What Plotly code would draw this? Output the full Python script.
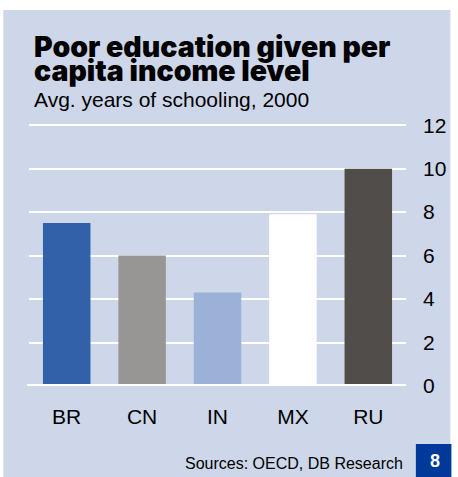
import plotly.graph_objects as go

categories = ["BR", "CN", "IN", "MX", "RU"]
values = [7.5, 6.0, 4.3, 7.9, 10.0]
bar_colors = ["#3261A9", "#989694", "#9BB1D7", "#FFFFFF", "#514D4B"]
y_ticks = [0, 2, 4, 6, 8, 10, 12]

title_line1 = "Poor education given per"
title_line2 = "capita income level"
subtitle = "Avg. years of schooling, 2000"
source = "Sources: OECD, DB Research"
chart_no = "8"

W, H = 458, 477
ML, MR, MT, MB = 29, 47, 123, 91
PW, PH = W - ML - MR, H - MT - MB
BG = "#CDD7E9"
FONT = "Liberation Sans, Arial, sans-serif"
TITLE_FONT = "Inter, Roboto, sans-serif"

fig = go.Figure()
fig.add_trace(go.Bar(
    x=categories, y=values, marker=dict(color=bar_colors, line=dict(width=0)),
    width=0.63, hoverinfo="skip",
))

def px_x(p):
    return (p - ML) / PW

def px_y(p):
    return (H - MB - p) / PH

shapes = [
    dict(type="rect", xref="paper", yref="paper", x0=px_x(3), x1=px_x(456),
         y0=px_y(477), y1=px_y(10), fillcolor=BG, line=dict(width=0), layer="below"),
    dict(type="rect", xref="paper", yref="paper", x0=px_x(421), x1=px_x(457),
         y0=px_y(477), y1=px_y(444), fillcolor="#00399A", line=dict(width=0), layer="above"),
    dict(type="line", xref="paper", yref="y", x0=px_x(27), x1=1.0, y0=0, y1=0,
         line=dict(color="white", width=4), layer="above"),
]

annotations = [
    dict(text=title_line1, x=px_x(32), y=px_y(46.5), xanchor="left", yanchor="middle",
         font=dict(family=TITLE_FONT, size=28.5, color="black", weight=900)),
    dict(text=title_line2, x=px_x(32), y=px_y(70.5), xanchor="left", yanchor="middle",
         font=dict(family=TITLE_FONT, size=28.5, color="black", weight=900)),
    dict(text=subtitle, x=px_x(32), y=px_y(99.5), xanchor="left", yanchor="middle",
         font=dict(family=FONT, size=21, color="black")),
    dict(text=source, x=px_x(410), y=px_y(463.5), xanchor="right", yanchor="middle",
         font=dict(family=FONT, size=16, color="black")),
    dict(text="<b>" + chart_no + "</b>", x=px_x(440), y=px_y(461), xanchor="center", yanchor="middle",
         font=dict(family=FONT, size=18, color="white")),
]
for a in annotations:
    a.update(xref="paper", yref="paper", showarrow=False)

fig.update_layout(
    width=W, height=H,
    margin=dict(l=ML, r=MR, t=MT, b=MB, pad=0),
    paper_bgcolor="white", plot_bgcolor=BG,
    showlegend=False,
    bargap=0.37,
    shapes=shapes,
    annotations=annotations,
    font=dict(family=FONT, color="black"),
)
fig.update_xaxes(
    showgrid=False, zeroline=False, showline=False, ticks="",
    tickfont=dict(family=FONT, size=21, color="black"),
    ticklabelstandoff=16, fixedrange=True,
)
fig.update_yaxes(
    range=[0, 12.1], tickvals=y_ticks, side="right",
    showgrid=True, gridcolor="white", gridwidth=2,
    zeroline=False, showline=False, ticks="",
    tickfont=dict(family=FONT, size=21, color="black"),
    ticklabelstandoff=16, fixedrange=True,
)

fig.write_html(
    "out.html",
    config=dict(displayModeBar=False),
    post_script="document.body.style.margin='0';document.body.style.padding='0';document.body.style.overflow='hidden';",
)
